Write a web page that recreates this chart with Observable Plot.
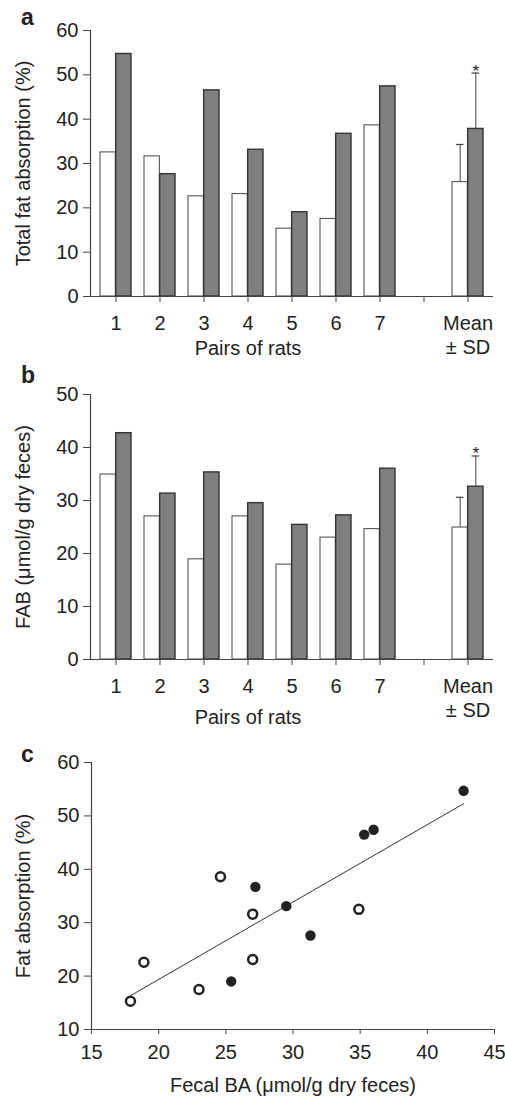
<!DOCTYPE html>
<html>
<head>
<meta charset="utf-8">
<script src="https://cdn.jsdelivr.net/npm/d3@7"></script>
<script src="https://cdn.jsdelivr.net/npm/@observablehq/plot@0.6"></script>
<style>
  body { margin: 0; background: #fff; }
  #root { position: relative; width: 505px; height: 1096px; font-family: "Liberation Sans", Arial, Helvetica, sans-serif; color: #222; }
  #root svg { display: block; }
  .panel-letter { position: absolute; left: 21px; font-weight: bold; font-size: 23px; line-height: 1; }
</style>
</head>
<body>
<div id="root"></div>
<script>
// ---- Data ----
const pairs = ["1", "2", "3", "4", "5", "6", "7"];
const gapCategory = " ";
const meanCategory = "Mean\n± SD";
const categories = [...pairs, gapCategory, meanCategory];

// Panel a: total fat absorption (%)
const fatControl = [32.5, 31.6, 22.6, 23.1, 15.3, 17.5, 38.6];
const fatTreated = [54.7, 27.6, 46.5, 33.1, 19.0, 36.7, 47.4];
const fatMean = [25.8, 37.8];
const fatSD = [8.5, 12.6];
const fatTicks = [0, 10, 20, 30, 40, 50, 60];

// Panel b: FAB (µmol/g dry feces)
const fabControl = [34.9, 27.0, 18.9, 27.0, 17.9, 23.0, 24.6];
const fabTreated = [42.7, 31.3, 35.3, 29.5, 25.4, 27.2, 36.0];
const fabMean = [24.9, 32.6];
const fabSD = [5.7, 5.8];
const fabTicks = [0, 10, 20, 30, 40, 50];

// Panel c ticks
const scatterXTicks = [15, 20, 25, 30, 35, 40, 45];
const scatterYTicks = [10, 20, 30, 40, 50, 60];

const FONT = '"Liberation Sans", Arial, Helvetica, sans-serif';
const FS = 20;
const INK = "#222";
const GREY = "#7f7f82";
const W = 505;

function barPanel({control, treated, mean, sd, yTicks, yLabel, height, marginTop, marginBottom, pairsDy, starDy}) {
  const marginLeft = 90, marginRight = 12;
  const paddingInner = 0.3, paddingOuter = 0.15;
  const step = (W - marginLeft - marginRight) / (categories.length - paddingInner + 2 * paddingOuter);
  const bw = step * (1 - paddingInner);
  const controlRows = pairs.map((c, i) => ({cat: c, value: control[i]}));
  const treatedRows = pairs.map((c, i) => ({cat: c, value: treated[i]}));
  controlRows.push({cat: meanCategory, value: mean[0], sd: sd[0]});
  treatedRows.push({cat: meanCategory, value: mean[1], sd: sd[1]});
  const meanControl = controlRows.filter(d => d.sd != null);
  const meanTreated = treatedRows.filter(d => d.sd != null);
  const capHalf = 4;
  return Plot.plot({
    width: W, height, marginTop, marginBottom, marginLeft, marginRight,
    style: {fontSize: FS + "px", fontFamily: FONT, color: INK, background: "white"},
    x: {type: "band", domain: categories, paddingInner, paddingOuter},
    y: {domain: [yTicks[0], yTicks[yTicks.length - 1]]},
    marks: [
      Plot.barY(controlRows, {x: "cat", y: "value", fill: "white", stroke: "#444", strokeWidth: 1, insetRight: bw / 2}),
      Plot.barY(treatedRows, {x: "cat", y: "value", fill: GREY, stroke: "#333", strokeWidth: 1.4, insetLeft: bw / 2}),
      Plot.ruleX(meanControl, {x: "cat", y1: "value", y2: d => d.value + d.sd, dx: -bw / 4, stroke: "#444", strokeWidth: 1}),
      Plot.ruleX(meanTreated, {x: "cat", y1: "value", y2: d => d.value + d.sd, dx: bw / 4, stroke: "#444", strokeWidth: 1}),
      Plot.tickY(meanControl, {x: "cat", y: d => d.value + d.sd, insetLeft: bw / 4 - capHalf, insetRight: 3 * bw / 4 - capHalf, stroke: "#444", strokeWidth: 1.2}),
      Plot.tickY(meanTreated, {x: "cat", y: d => d.value + d.sd, insetLeft: 3 * bw / 4 - capHalf, insetRight: bw / 4 - capHalf, stroke: "#444", strokeWidth: 1.2}),
      Plot.text(meanTreated, {x: "cat", y: d => d.value + d.sd, text: () => "*", dx: bw / 4, dy: starDy, lineAnchor: "bottom", fill: INK, fontSize: 17}),
      Plot.ruleY([yTicks[0]], {stroke: "#444", strokeWidth: 1.2}),
      Plot.frame({anchor: "left", stroke: "#444", strokeWidth: 1.2}),
      Plot.axisY({ticks: yTicks, tickSize: 7, tickPadding: 5, stroke: "#444", fontSize: FS, label: yLabel, labelAnchor: "center", labelArrow: "none", labelOffset: 75}),
      Plot.axisX({tickSize: 6, tickPadding: 10, stroke: "#444", fontSize: FS, label: null, lineHeight: 1.2}),
      Plot.text([{cat: "4", label: "Pairs of rats"}], {x: "cat", text: "label", frameAnchor: "bottom", dy: pairsDy, lineAnchor: "middle", fill: INK, fontSize: FS})
    ]
  });
}

const root = document.getElementById("root");

const panelA = barPanel({
  control: fatControl, treated: fatTreated, mean: fatMean, sd: fatSD,
  yTicks: fatTicks, yLabel: "Total fat absorption (%)",
  height: 360, marginTop: 30, marginBottom: 64, pairsDy: 52, starDy: 4
});
root.appendChild(panelA);

const panelB = barPanel({
  control: fabControl, treated: fabTreated, mean: fabMean, sd: fabSD,
  yTicks: fabTicks, yLabel: "FAB (μmol/g dry feces)",
  height: 370, marginTop: 34, marginBottom: 71, pairsDy: 58, starDy: 3
});
root.appendChild(panelB);

const scatterRows = [
  ...pairs.map((p, i) => ({fab: fabControl[i], fat: fatControl[i], group: "control"})),
  ...pairs.map((p, i) => ({fab: fabTreated[i], fat: fatTreated[i], group: "treated"}))
];

const panelC = Plot.plot({
  width: W, height: 366, marginTop: 32, marginBottom: 67, marginLeft: 91, marginRight: 11,
  style: {fontSize: FS + "px", fontFamily: FONT, color: INK, background: "white"},
  x: {domain: [scatterXTicks[0], scatterXTicks[scatterXTicks.length - 1]]},
  y: {domain: [scatterYTicks[0], scatterYTicks[scatterYTicks.length - 1]]},
  marks: [
    Plot.frame({anchor: "left", stroke: "#444", strokeWidth: 1.2}),
    Plot.frame({anchor: "bottom", stroke: "#444", strokeWidth: 1.2}),
    Plot.axisY({ticks: scatterYTicks, tickSize: 7, tickPadding: 5, stroke: "#444", fontSize: FS, label: "Fat absorption (%)", labelAnchor: "center", labelArrow: "none", labelOffset: 76}),
    Plot.axisX({ticks: scatterXTicks, tickSize: 5, tickPadding: 10, stroke: "#444", fontSize: FS, label: "Fecal BA (μmol/g dry feces)", labelAnchor: "center", labelArrow: "none", labelOffset: 62}),
    Plot.linearRegressionY(scatterRows, {x: "fab", y: "fat", ci: 0, stroke: "#333", strokeWidth: 1}),
    Plot.dot(scatterRows.filter(d => d.group === "control"), {x: "fab", y: "fat", r: 4.5, fill: "white", stroke: INK, strokeWidth: 2.5}),
    Plot.dot(scatterRows.filter(d => d.group === "treated"), {x: "fab", y: "fat", r: 5.2, fill: INK, stroke: "none"})
  ]
});
root.appendChild(panelC);

[["a", 6], ["b", 364], ["c", 743]].forEach(([t, top]) => {
  const d = document.createElement("div");
  d.className = "panel-letter";
  d.style.top = top + "px";
  d.textContent = t;
  root.appendChild(d);
});
</script>
</body>
</html>
